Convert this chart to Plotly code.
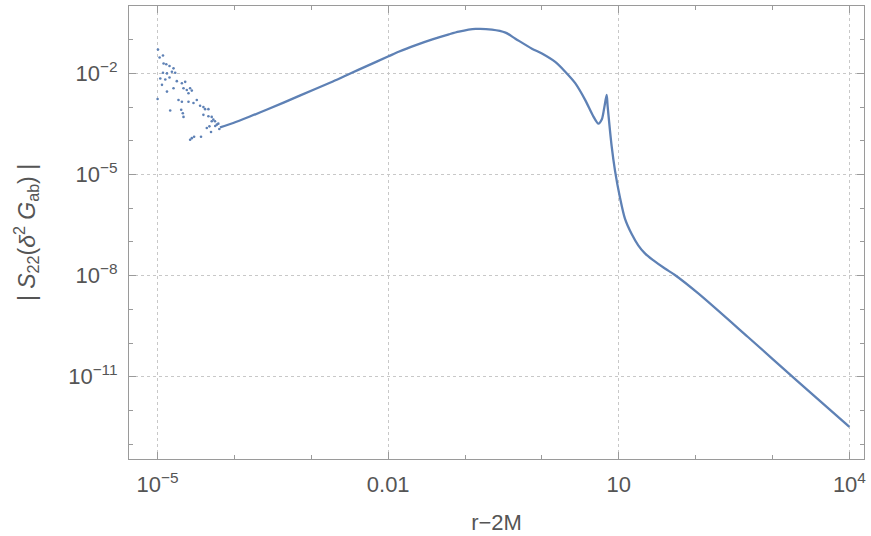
import numpy as np
import plotly.graph_objects as go

# ---- data (log10 values) ----
scatter_log_r = [-4.995, -4.974, -4.930, -4.922, -4.887, -4.930, -4.878, -4.845, -4.793, -4.814,
                 -4.771, -4.965, -4.900, -4.845, -4.750, -4.684, -4.641, -4.943, -4.793, -4.663,
                 -4.620, -4.577, -4.598, -4.555, -4.878, -5.000, -4.728, -4.684, -4.598, -4.490,
                 -4.533, -4.447, -4.404, -4.382, -4.339, -4.836, -4.693, -4.672, -4.663, -4.404,
                 -4.339, -4.296, -4.275, -4.253, -4.296, -4.326, -4.360, -4.305, -4.210, -4.197,
                 -4.577, -4.555, -4.525, -4.435, -4.250, -4.230]
scatter_log_s = [-1.294, -1.530, -1.470, -1.706, -1.726, -1.980, -2.000, -1.780, -1.850, -1.950,
                 -1.980, -2.150, -2.180, -2.120, -2.230, -2.290, -2.250, -2.340, -2.440, -2.440,
                 -2.490, -2.440, -2.590, -2.510, -2.540, -2.760, -2.790, -2.840, -2.840, -2.790,
                 -2.880, -2.960, -3.000, -3.060, -3.060, -3.100, -3.080, -3.180, -3.290, -3.230,
                 -3.270, -3.290, -3.370, -3.420, -3.420, -3.570, -3.620, -3.740, -3.490, -3.650,
                 -3.970, -3.920, -3.880, -3.880, -3.560, -3.520]

line_log_r = [-4.188, -4.016, -3.80, -3.583, -3.151, -2.72, -2.50, -2.288, -2.003, -1.856,
              -1.64, -1.425, -1.21, -1.08, -0.863, -0.65, -0.474, -0.345, -0.13, 0.0,
              0.173, 0.303, 0.433, 0.562, 0.67, 0.735, 0.778, 0.81, 0.842, 0.855,
              0.907, 0.951, 1.015, 1.08, 1.166, 1.253, 1.34, 1.447, 1.60, 1.73,
              2.03, 2.68, 3.32, 4.00]
line_log_s = [-3.60, -3.47, -3.28, -3.08, -2.66, -2.24, -2.01, -1.79, -1.50, -1.35,
              -1.16, -0.99, -0.84, -0.76, -0.68, -0.70, -0.79, -0.97, -1.265, -1.41,
              -1.66, -1.95, -2.29, -2.785, -3.28, -3.49, -3.37, -3.03, -2.64, -2.98,
              -4.16, -4.89, -5.68, -6.31, -6.76, -7.10, -7.34, -7.54, -7.79, -7.98,
              -8.52, -9.82, -11.12, -12.49]

x_tickvals = [1e-5, 1e-2, 1e1, 1e4]
x_ticktext = ["10<sup>\u22125</sup>", "0.01", "10", "10<sup>4</sup>"]
y_tickvals = [1e-2, 1e-5, 1e-8, 1e-11]
y_ticktext = ["10<sup>\u22122</sup>", "10<sup>\u22125</sup>", "10<sup>\u22128</sup>", "10<sup>\u221211</sup>"]
x_minor = [10.0 ** k for k in range(-5, 5)]
y_minor = [10.0 ** k for k in range(-13, 1)]

COLOR = "#5E81B5"
FONT = "Liberation Sans"
TXT = "#555555"

fig = go.Figure()
fig.add_trace(go.Scatter(
    x=np.power(10.0, scatter_log_r), y=np.power(10.0, scatter_log_s),
    mode="markers", marker=dict(size=2.6, color=COLOR), showlegend=False))
fig.add_trace(go.Scatter(
    x=np.power(10.0, line_log_r), y=np.power(10.0, line_log_s),
    mode="lines", line=dict(color=COLOR, width=2.3, shape="spline", smoothing=0.8),
    showlegend=False))

axis_common = dict(
    type="log", showline=True, linecolor="#9a9a9a", linewidth=1, mirror="ticks",
    ticks="inside", ticklen=7, tickcolor="#9a9a9a", tickwidth=1,
    showgrid=True, gridcolor="#c8c8c8", griddash="dot", gridwidth=1,
    zeroline=False, tickfont=dict(family=FONT, size=22, color=TXT),
    ticklabelstandoff=6,
)

fig.update_xaxes(
    **axis_common, range=[-5.372, 4.19], tickmode="array",
    tickvals=x_tickvals, ticktext=x_ticktext,
    minor=dict(tickvals=x_minor, ticks="inside", ticklen=4, tickcolor="#9a9a9a", showgrid=False),
    title=dict(text="r\u22122M", font=dict(family=FONT, size=22, color=TXT), standoff=18),
)
fig.update_yaxes(
    **axis_common, range=[-13.44, 0.0], tickmode="array",
    tickvals=y_tickvals, ticktext=y_ticktext,
    minor=dict(tickvals=y_minor, ticks="inside", ticklen=4, tickcolor="#9a9a9a", showgrid=False),
    title=dict(text="| <i>S</i><sub>22</sub>(<i>\u03b4</i><sup>2</sup> <i>G</i><sub>ab</sub>) |",
               font=dict(family=FONT, size=23, color=TXT), standoff=26),
)

fig.update_layout(
    width=871, height=536, margin=dict(l=129, r=5, t=5, b=74),
    paper_bgcolor="white", plot_bgcolor="white",
)

fig.write_html("out.html")
